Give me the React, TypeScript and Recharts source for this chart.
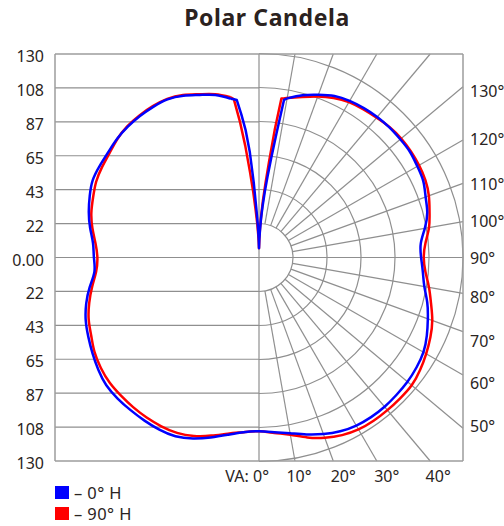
import React from 'react'
import { ComposedChart, Scatter, XAxis, YAxis, ReferenceLine, ReferenceArea, Legend } from 'recharts'

// vertical angle (deg, 0 = straight down) shared by every curve
const angles = [
  0, 5, 10, 15, 20, 25, 30, 35, 40, 45, 50, 55, 60, 65, 70, 75, 80, 85, 90,
  95, 100, 105, 110, 115, 120, 125, 130, 135, 140, 145, 150, 155, 160, 165, 170,
  171, 172, 173, 174, 175, 176, 177, 178, 179, 180,
]

// candela, right half of the plot
const blueRight = [
  111, 112, 114, 117, 120, 122.5, 124, 124.5, 124.5, 124, 123.5, 122.5, 121, 118, 114.5, 111, 107, 104.8, 103.3,
  103.5, 107.3, 111, 113, 115.5, 116.5, 117.5, 117.5, 117.5, 117.2, 116.5, 115.5, 113.8, 110.6, 107.3, 103.2,
  102, 80, 64, 52, 42, 33, 25, 17, 11, 6,
]
const redRight = [
  111, 112.5, 115, 119, 122.5, 125.2, 126.8, 127.3, 127.3, 127.2, 127, 125.3, 123, 120.5, 117.5, 113.5, 110, 106.5, 105,
  106.5, 110, 112.5, 115.2, 117, 117.8, 118.2, 118.3, 117.8, 116.6, 115.6, 114.6, 112.5, 109.5, 106.2, 103.5,
  103, 102.6, 82, 62, 48, 37, 27, 19, 12, 6,
]
// candela, left half of the plot
const blueLeft = [
  111, 112, 115, 119, 123, 126, 127, 127.2, 127.3, 127.4, 127, 125, 122.5, 120, 117.5, 114, 109.6, 105.3, 105.2,
  106.2, 109.3, 112.3, 114.8, 116.9, 117.2, 117.3, 118, 118.2, 118, 117.5, 116.6, 114, 110.5, 107.5, 103,
  102.3, 101.6, 92, 82, 68, 48, 30, 20, 12, 6,
]
const redLeft = [
  111, 112, 114.3, 117.8, 121.3, 123.6, 124.5, 124.8, 124.8, 124.6, 124.3, 123, 121, 118, 115.5, 112, 108, 104.2, 103,
  104.6, 107.8, 110.6, 112.5, 114.5, 115.5, 116.3, 117.8, 118.6, 118.5, 118, 117, 114.5, 111, 108, 104,
  102.3, 88, 72, 55, 42, 30, 22, 15, 10, 6,
]

const maxCd = 130
const ringCount = 6
const candelaLabels = ['0.00', '22', '43', '65', '87', '108', '130']
const bottomAngles = [0, 10, 20, 30, 40]
const bottomLabels = ['VA: 0°', '10°', '20°', '30°', '40°']
const topAngles = [180, 170, 160, 150, 140]
const topLabels = ['180°', '170°', '160°', '150°', '140°']
const sideAngles = [130, 120, 110, 100, 90, 80, 70, 60, 50]
const sideLabels = ['130°', '120°', '110°', '100°', '90°', '80°', '70°', '60°', '50°']
const radialAngles = [10, 20, 30, 40, 50, 60, 70, 80, 100, 110, 120, 130, 140, 150, 160, 170]

// the smooth outline ends here; beyond it the top notch is drawn with straight segments
const notchStart = 170

// small label nudges (px) so text sits like the original
const bottomShift = [10, 4, 10, 10, 8]
const topShift = [2, 8, 16, 17, 11]
const sideShift = [10, 5, 7, 5, 6, 10, 15, 14, 4]

const textColor = '#2a2422'
const gridColor = '#8f8f8f'
const boxColor = '#9c9c9c'
const font = '"Noto Sans", sans-serif'

const rad = (d: number) => (d * Math.PI) / 180
const ringStep = maxCd / ringCount
const candelaTicks = Array.from({ length: ringCount * 2 + 1 }, (_, i) => (i - ringCount) * ringStep)
const ringRadii = Array.from({ length: ringCount }, (_, i) => (i + 1) * ringStep)
const bottomTicks = bottomAngles.map((a) => maxCd * Math.tan(rad(a)))
const topTicks = topAngles.map((a) => maxCd * Math.tan(rad(180 - a)))
const sideTicks = sideAngles.map((a) => (-maxCd * Math.cos(rad(a))) / Math.sin(rad(a)))

const polar = (cd: number, deg: number, side: number) => ({
  x: side * cd * Math.sin(rad(deg)),
  y: -cd * Math.cos(rad(deg)),
})
const cut = angles.indexOf(notchStart)

// left side from the notch down to 0°, then the right side back up
const outline = (left: number[], right: number[]) => {
  const pts = []
  for (let i = cut; i >= 1; i--) pts.push(polar(left[i], angles[i], -1))
  for (let i = 0; i <= cut; i++) pts.push(polar(right[i], angles[i], 1))
  return pts
}
// left notch edge up to the 180° tip and down the right edge
const notch = (left: number[], right: number[]) => {
  const pts = []
  for (let i = cut; i < angles.length; i++) pts.push(polar(left[i], angles[i], -1))
  for (let i = angles.length - 2; i >= cut; i--) pts.push(polar(right[i], angles[i], 1))
  return pts
}

const blueMain = outline(blueLeft, blueRight)
const blueNotch = notch(blueLeft, blueRight)
const redMain = outline(redLeft, redRight)
const redNotch = notch(redLeft, redRight)

const radialSegment = (deg: number) => {
  const s = Math.sin(rad(deg))
  const c = -Math.cos(rad(deg))
  const t = Math.min(Math.abs(s) > 1e-9 ? maxCd / Math.abs(s) : Infinity, Math.abs(c) > 1e-9 ? maxCd / Math.abs(c) : Infinity)
  return [
    { x: ringStep * s, y: ringStep * c },
    { x: t * s, y: t * c },
  ]
}

const PolarRings = (p: any) => {
  const { x, y, width, height } = p
  const cx = x
  const cy = y + height / 2
  const k = width / maxCd
  return (
    <g>
      {ringRadii.map((r) => (
        <path key={r} d={`M${cx},${cy - r * k} A${r * k},${r * k} 0 0 1 ${cx},${cy + r * k}`}
          fill="none" stroke={gridColor} strokeWidth={1.2} />
      ))}
    </g>
  )
}

const LeftTick = ({ x, y, payload }: any) => (
  <text x={x} y={y + 8} textAnchor="end" fill={textColor} fontSize={16} fontFamily={font}>
    {candelaLabels[Math.round(Math.abs(payload.value) / ringStep)]}
  </text>
)
const RightTick = ({ x, y, index }: any) => (
  <text x={x} y={y + sideShift[index]} textAnchor="start" fill={textColor} fontSize={16} fontFamily={font}>
    {sideLabels[index]}
  </text>
)
const BottomTick = ({ x, y, index }: any) => (
  <text x={x + bottomShift[index]} y={y + 20.5} textAnchor={index === 0 ? 'end' : 'middle'}
    fill={textColor} fontSize={16} fontFamily={font}>
    {bottomLabels[index]}
  </text>
)
const TopTick = ({ x, y, index }: any) => (
  <text x={x + topShift[index]} y={y - 3.5} textAnchor="middle" fill={textColor} fontSize={16} fontFamily={font}>
    {topLabels[index]}
  </text>
)

const LegendBox = ({ payload }: any) => {
  const items = (payload || [])
    .filter((it: any) => it.type !== 'none')
    .sort((a: any, b: any) => String(a.value).localeCompare(String(b.value)))
  return (
    <div style={{ fontFamily: font }}>
      {items.map((it: any) => (
        <div key={it.value} style={{ display: 'flex', alignItems: 'center', height: 21 }}>
          <span style={{ width: 14, height: 13, background: it.color, marginRight: 5 }} />
          <span style={{ fontSize: 16.5, color: textColor, lineHeight: '21px', letterSpacing: 0.4 }}>– {it.value}</span>
        </div>
      ))}
    </div>
  )
}

const noDot = () => <g />

export default function App() {
  return (
    <div style={{ position: 'absolute', left: 0, top: 0, width: 504, height: 526, background: '#fff' }}>
      <div style={{ position: 'absolute', left: 0, top: 6, width: 534, textAlign: 'center', fontFamily: font,
        fontWeight: 700, fontSize: 23, lineHeight: '23px', letterSpacing: 0.6, color: '#2b2220' }}>
        Polar Candela
      </div>
      <ComposedChart width={504} height={526} margin={{ top: 20, right: 0, bottom: 40, left: 5 }}>
        <XAxis dataKey="x" type="number" domain={[-maxCd, maxCd]} ticks={bottomTicks} interval={0}
          tick={<BottomTick />} tickLine={false} tickSize={0} tickMargin={0} height={25}
          axisLine={{ stroke: boxColor, strokeWidth: 1.5 }} allowDataOverflow />
        <XAxis xAxisId="top" orientation="top" type="number" domain={[-maxCd, maxCd]} ticks={topTicks} interval={0}
          tick={<TopTick />} tickLine={false} tickSize={0} tickMargin={0} height={34}
          axisLine={{ stroke: boxColor, strokeWidth: 1.5 }} allowDataOverflow />
        <YAxis dataKey="y" type="number" domain={[-maxCd, maxCd]} ticks={candelaTicks} interval={0}
          tick={<LeftTick />} tickLine={false} tickSize={0} tickMargin={11} width={50}
          axisLine={{ stroke: boxColor, strokeWidth: 1.5 }} allowDataOverflow />
        <YAxis yAxisId="right" orientation="right" type="number" domain={[-maxCd, maxCd]} ticks={sideTicks} interval={0}
          tick={<RightTick />} tickLine={false} tickSize={0} tickMargin={7} width={41}
          axisLine={{ stroke: boxColor, strokeWidth: 1.5 }} allowDataOverflow />

        {candelaTicks.filter((v) => Math.abs(v) < maxCd - 1 && Math.abs(v) > 1e-6).map((v) => (
          <ReferenceLine key={v} segment={[{ x: -maxCd, y: v }, { x: 0, y: v }]} stroke={gridColor} strokeWidth={1.2} ifOverflow="visible" />
        ))}
        <ReferenceArea x1={0} x2={maxCd} y1={-maxCd} y2={maxCd} shape={PolarRings} ifOverflow="visible" />
        {radialAngles.map((a) => (
          <ReferenceLine key={a} segment={radialSegment(a)} stroke={gridColor} strokeWidth={1.2} ifOverflow="visible" />
        ))}
        <ReferenceLine y={0} stroke={gridColor} strokeWidth={1.2} />
        <ReferenceLine x={0} stroke={gridColor} strokeWidth={1.2} />

        <Scatter name="90° H" data={redMain} fill="#ff0000" line={{ stroke: '#ff0000', strokeWidth: 2.5 }}
          lineJointType="natural" shape={noDot} isAnimationActive={false} />
        <Scatter name="90° H notch" legendType="none" data={redNotch} fill="#ff0000"
          line={{ stroke: '#ff0000', strokeWidth: 2.5, strokeLinejoin: 'round' }}
          lineJointType="linear" shape={noDot} isAnimationActive={false} />
        <Scatter name="0° H" data={blueMain} fill="#0000ff" line={{ stroke: '#0000ff', strokeWidth: 2.5 }}
          lineJointType="natural" shape={noDot} isAnimationActive={false} />
        <Scatter name="0° H notch" legendType="none" data={blueNotch} fill="#0000ff"
          line={{ stroke: '#0000ff', strokeWidth: 2.5, strokeLinejoin: 'round' }}
          lineJointType="linear" shape={noDot} isAnimationActive={false} />

        <Legend layout="horizontal" verticalAlign="middle" align="center" content={<LegendBox />}
          wrapperStyle={{ position: 'absolute', left: 55, top: 482, width: 'auto', height: 'auto' }} />
      </ComposedChart>
    </div>
  )
}
